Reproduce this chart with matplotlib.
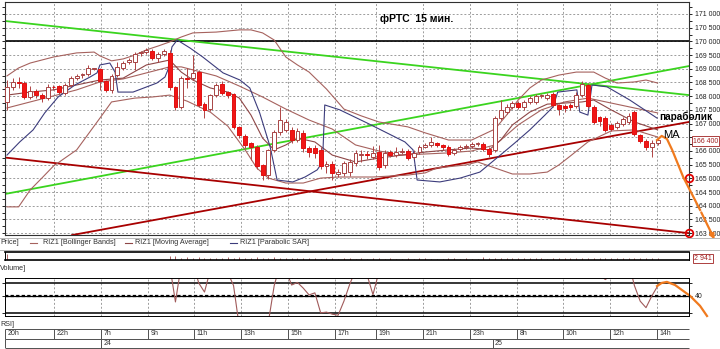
import numpy as np
import matplotlib.pyplot as plt
from matplotlib.lines import Line2D
from matplotlib.ticker import MultipleLocator, FuncFormatter

plt.rcParams['font.family'] = ['Liberation Sans', 'DejaVu Sans']

# 15-minute candles RIZ1 (open, high, low, close)
opens = [167790, 168340, 168520, 168480, 167970, 168190, 168040, 167930, 168340, 168370,
         168120, 168410, 168660, 168770, 168810, 168990, 168990, 168550, 168230, 168770,
         169030, 169250, 169250, 169570, 169610, 169650, 169390, 169540, 169580, 168340,
         167610, 168660, 168660, 168880, 167720, 167530, 168040, 168440, 168150, 168080,
         166870, 166550, 166290, 166150, 165490, 165120, 166040, 166690, 166770, 166770,
         166400, 166660, 166110, 166110, 166040, 165450, 165520, 165160, 165200, 165230,
         165560, 165850, 165870, 165780, 165960, 165490, 165960, 165850, 165960, 166000,
         165780, 165960, 166150, 166220, 166290, 166220, 166150, 165930, 166070, 166150,
         166180, 166250, 166260, 166070, 166040, 167200, 167420, 167610, 167750, 167610,
         167790, 167790, 168010, 167930, 168080, 167680, 167640, 167680, 167640, 168040,
         168410, 167610, 167240, 167200, 166950, 166880, 166980, 167060, 167420, 166580,
         166360, 166150, 166290]
highs = [168590, 168660, 168700, 168560, 168370, 168260, 168120, 168450, 168410, 168410,
         168480, 168740, 168810, 168850, 169140, 169030, 169030, 168590, 168810, 169250,
         169280, 169390, 169610, 169650, 169760, 169720, 169610, 169720, 169690, 168370,
         168740, 169030, 169500, 168960, 167790, 168080, 168480, 168560, 168190, 168120,
         166910, 166620, 166330, 166220, 165530, 166080, 166760, 167610, 167170, 166880,
         166840, 166770, 166180, 166220, 166150, 165640, 165640, 165340, 165640, 165710,
         166040, 166040, 166000, 166180, 166220, 166040, 166040, 166150, 166110, 166070,
         166040, 166220, 166290, 166510, 166330, 166260, 166220, 166110, 166220, 166260,
         166330, 166330, 166330, 166150, 167280, 167870, 167720, 167830, 167830, 167870,
         168010, 168080, 168080, 168120, 168150, 167720, 167720, 167750, 168150, 168560,
         168480, 167680, 167280, 167280, 167020, 167090, 167240, 167390, 167500, 166620,
         166440, 166400, 166470]
lows = [167500, 168230, 168300, 167900, 167900, 167940, 167790, 167860, 168230, 168080,
        168040, 168340, 168590, 168660, 168740, 168960, 168230, 168150, 168120, 168700,
        168960, 169180, 168960, 169470, 169540, 169320, 169250, 169470, 168230, 167500,
        167540, 168300, 168590, 167610, 167200, 167460, 167970, 168040, 167930, 166800,
        166470, 166110, 165670, 165340, 164940, 164980, 165970, 166580, 166690, 166290,
        166330, 165970, 165780, 165750, 165340, 165200, 164940, 165050, 165090, 165090,
        165450, 165600, 165710, 165710, 165310, 165380, 165780, 165780, 165890, 165670,
        165710, 165890, 166110, 166150, 166150, 166040, 165820, 165850, 166000, 166070,
        166110, 166180, 166000, 165780, 165960, 167130, 167350, 167540, 167540, 167500,
        167720, 167720, 167940, 167870, 167610, 167310, 167420, 167500, 167570, 167970,
        167570, 166980, 166910, 166690, 166730, 166800, 166910, 166980, 166550, 166290,
        166040, 165780, 166220]
closes = [168340, 168520, 168480, 167970, 168190, 168040, 167930, 168340, 168320, 168150,
          168410, 168660, 168740, 168790, 169030, 169000, 168550, 168230, 168740, 169060,
          169210, 169320, 169540, 169580, 169690, 169390, 169540, 169650, 168340, 167610,
          168660, 168630, 168850, 167680, 167500, 168040, 168410, 168120, 168040, 166870,
          166580, 166220, 166150, 165450, 165120, 166040, 166690, 167130, 167060, 166400,
          166730, 166110, 165960, 165930, 165450, 165520, 165200, 165230, 165560, 165600,
          165930, 165870, 165860, 165930, 165420, 165930, 165850, 165960, 165970, 165740,
          165930, 166150, 166220, 166330, 166220, 166150, 165890, 166040, 166150, 166180,
          166260, 166260, 166070, 165890, 167200, 167500, 167610, 167750, 167610, 167790,
          167930, 168010, 168020, 168040, 167680, 167530, 167570, 167610, 168040, 168440,
          167640, 167060, 167090, 166770, 166800, 167020, 167170, 167280, 166620, 166360,
          166150, 166290, 166400]

# indicator lines (candle index, price)
bb_up_x = [0, 2, 4, 8, 12, 15, 16, 18, 20, 22, 24, 26, 28, 30, 32, 36, 40, 42, 44, 46, 48, 50,
           52, 55, 58, 61, 64, 69, 72, 76, 80, 84, 86, 88, 90, 92, 95, 98, 101, 103, 105, 108,
           110, 112]
bb_up = [168740, 169030, 169210, 169430, 169580, 169610, 169470, 169290, 169360, 169500,
         169690, 169830, 169980, 170160, 170310, 170340, 170420, 170420, 170310, 170050,
         169430, 169140, 168880, 168260, 167530, 167280, 167060, 166880, 166660, 166400,
         166400, 166800, 167310, 167860, 168300, 168590, 168770, 168880, 168880, 168660,
         168480, 168520, 168590, 168480]
bb_mid_x = [0, 4, 8, 12, 16, 20, 24, 28, 30, 32, 36, 40, 44, 48, 52, 56, 60, 64, 68, 72, 76,
            80, 84, 86, 88, 92, 96, 100, 104, 108, 112]
bb_mid = [167570, 167790, 168010, 168230, 168520, 168630, 168850, 169070, 169070, 168960,
          168740, 168370, 167970, 167530, 167130, 166800, 166220, 166000, 165850, 165890,
          165930, 166000, 166220, 166580, 166950, 167500, 167790, 167930, 167750, 167570,
          167390]
bb_low_x = [0, 2, 4, 6, 8, 12, 16, 18, 22, 25, 28, 31, 35, 38, 41, 43, 45, 48, 51, 54, 57, 63,
            69, 72, 74, 79, 81, 84, 87, 90, 93, 95, 97, 100, 104, 108, 112]
bb_low = [163960, 163960, 164580, 165010, 165450, 166040, 167200, 167790, 167930, 167970,
          168040, 167820, 167420, 166910, 166040, 165380, 165010, 164830, 164830, 165010,
          165050, 165050, 165120, 165200, 165380, 165490, 165600, 165380, 165160, 165160,
          165230, 165490, 165820, 166330, 166730, 166770, 166510]
ma_x = [0, 4, 8, 12, 16, 20, 24, 28, 30, 32, 35, 38, 40, 42, 44, 46, 48, 50, 53, 56, 60, 64,
        68, 72, 76, 80, 83, 85, 87, 90, 93, 96, 99, 101, 104, 108, 112]
ma = [168040, 168150, 168230, 168410, 168590, 168660, 169140, 169320, 168880, 168590,
      168300, 168150, 167930, 167310, 166470, 166040, 166220, 166470, 166330, 165850,
      165600, 165740, 165850, 165960, 166040, 166110, 166040, 166400, 166950, 167420,
      167710, 167750, 167790, 167860, 167500, 167060, 166770]
sar_x = [0, 2.2, 4.5, 6.5, 8.8, 11.7, 14.3, 15.5, 16.0, 17.7, 18.6, 19.1, 21.7, 25.8, 27.2,
         27.7, 28.4, 29.3, 31.5, 33.7, 37.2, 40.1, 41.8, 43.5, 45.3, 46.5, 49.2, 51.3, 53.4,
         54.2, 54.4, 54.7, 57.3, 62.0, 65.4, 68.5, 69.9, 70.6, 74.5, 78.0, 81.4, 84.3, 87.4,
         90.0, 92.6, 94.0, 94.8, 98.1, 98.6, 100.0, 100.7, 103.3, 107.2, 111.9]
sar = [165850, 166330, 166770, 167390, 167970, 168410, 168700, 168850, 169140, 169210,
       168880, 168150, 168150, 168480, 168700, 168960, 169800, 170050, 169760, 169430,
       168850, 168590, 168300, 167390, 166150, 164940, 164870, 165050, 165310, 165560,
       166040, 167680, 167500, 167020, 166660, 166330, 166040, 164940, 164870, 165010,
       165230, 165740, 166290, 166770, 167310, 167610, 168150, 168230, 167420, 167310,
       168410, 168340, 167860, 167200]

# hand-drawn lines: (x0, x1), (p0, p1)
green_down = ([-0.34, 117.4], [170745, 168040])
green_up = ([-0.34, 117.4], [164430, 169100])
red_down = ([-0.34, 117.4], [165760, 163000])
red_up = ([11.2, 117.4], [162930, 167060])
level = 170000
circles = [165000, 163000]
arrow_x = [111.9, 112.7, 113.6, 114.5, 116.4, 119.3, 122.0]
arrow_p = [166400, 166550, 166440, 166040, 165050, 163850, 162680]
last_price = 166400

# volume and RSI
volume = [8000, 600] + [500] * 26 + [
    5200, 4800, 2600, 3200, 2400, 3400, 2200, 3000, 2600, 2200,
    3300, 2400, 3600, 2800, 2500, 3400, 2300, 2900, 3500, 2600,
    2200, 3100, 2400, 2000, 2700, 2200, 1800, 2400, 2000, 1700,
    2300, 1900, 1800, 2200, 1700, 2100, 1900, 1600, 2000, 1800,
    1700, 2100, 1600, 1900, 2000, 1700, 1800, 1600, 2200, 1900,
    1700, 2000, 1800, 1600, 3200, 2600, 2300, 2000, 2400, 2100,
    1900, 2300, 2000, 2200, 2100, 1800, 2400, 2000, 1900, 2200,
    2500, 2100, 2800, 2300, 2000, 2400, 2100, 1900, 2200, 2000,
    2300, 2100, 1900, 2200, 2941]
rsi = [58, 61, 60, 52, 55, 53, 50, 57, 58, 54, 59, 63, 65, 66, 69, 68, 55, 50, 60, 64,
       66, 68, 71, 72, 73, 62, 65, 67, 52, 37.7, 52, 51, 53, 45, 41.5, 50, 55, 50, 49, 44,
       28, 25, 26, 22, 20, 30, 44, 52, 50, 44.2, 45.2, 43, 40.4, 41.2, 33.5, 33.8, 33, 32.6, 38, 44.5,
       50, 49, 48, 40.5, 49, 50, 49, 51, 52, 48, 51, 55, 56, 58, 55, 54, 48, 51, 53, 54,
       56, 56, 52, 48, 68, 72, 73, 74, 71, 73, 74, 75, 75, 75, 62, 58, 59, 60, 65, 69,
       56, 49, 48, 46.3, 48, 50, 52, 53, 44, 38, 35.5, 40, 43.8]
rsi_arrow_x = [111.9, 112.7, 113.6, 115.0, 117.6, 119.3, 120.5]
rsi_arrow = [43.8, 45, 45.4, 44.2, 40, 36.2, 32.3]

tick_pos = [-0.3, 8.1, 16.2, 24.3, 32.2, 40.3, 48.4, 56.5, 63.5, 71.6, 79.7, 87.8, 95.7,
            103.8, 111.9]
tick_lab = ['20h', '22h', '7h', '9h', '11h', '13h', '15h', '17h', '19h', '21h', '23h', '8h',
            '10h', '12h', '14h']
day_pos = [16.2, 83.6]
day_lab = ['24', '25']

o = np.array(opens); h = np.array(highs); l = np.array(lows); c = np.array(closes)
x = np.arange(len(c))
XL = (-0.34, 117.4)

W, H = 720, 349
def rect(x0, y0, x1, y1):
    return [x0 / W, 1 - y1 / H, (x1 - x0) / W, (y1 - y0) / H]

def price_fmt(v, p):
    # the last-price box hides the label next to it
    if abs(v - last_price) < 150:
        return ''
    return f'{int(v):,}'.replace(',', ' ')

fig = plt.figure(figsize=(7.2, 3.49), dpi=100)
grid_kw = dict(color='#9c9c9c', lw=0.7, ls=(0, (2, 2)))
tick_font = dict(labelsize=5, labelcolor='#202020')

# ---- main price pane
ax = fig.add_axes(rect(5, 2, 689, 235))
ax.set_xlim(XL)
ax.set_ylim(162933, 171438)
ax.set_xticks(tick_pos)
ax.xaxis.grid(True, **grid_kw)
ax.yaxis.set_major_locator(MultipleLocator(500))
ax.yaxis.set_minor_locator(MultipleLocator(250))
ax.yaxis.grid(True, **grid_kw)
ax.tick_params(axis='x', length=0, labelbottom=False)
ax.tick_params(axis='y', which='both', left=True, right=True, labelleft=False,
               labelright=True, length=2.5, width=0.6, pad=1.5, direction='out', **tick_font)
ax.yaxis.set_major_formatter(FuncFormatter(price_fmt))
for s in ax.spines.values():
    s.set_linewidth(0.8)
    s.set_color('#303030')

ax.axhline(level, color='black', lw=1.2, zorder=2)
ax.plot(*green_down, color='#3ad41e', lw=1.3, zorder=2)
ax.plot(*green_up, color='#3ad41e', lw=1.3, zorder=2)
ax.plot(*red_down, color='#a80000', lw=1.3, zorder=2)
ax.plot(*red_up, color='#a80000', lw=1.3, zorder=2)

band_c = '#a6625e'
ax.plot(bb_up_x, bb_up, color=band_c, lw=0.8, zorder=3)
ax.plot(bb_mid_x, bb_mid, color=band_c, lw=0.8, zorder=3)
ax.plot(bb_low_x, bb_low, color=band_c, lw=0.8, zorder=3)
ax.plot(ma_x, ma, color='#8e4646', lw=0.8, zorder=3)
ax.plot(sar_x, sar, color='#3c3c7c', lw=0.8, zorder=3)

up = c >= o
lo = np.minimum(o, c)
bh = np.maximum(np.abs(c - o), 25)
ax.vlines(x, l, h, color='#b04444', lw=0.7, zorder=4)
ax.bar(x[up], bh[up], bottom=lo[up], width=0.66, color='white', edgecolor='#a84444',
       lw=0.7, zorder=5)
ax.bar(x[~up], bh[~up], bottom=lo[~up], width=0.66, color='#f01616', edgecolor='#e01010',
       lw=0.7, zorder=5)

ax.plot([XL[1]] * 2, circles, 'o', mfc='none', mec='#e00000', ms=5.5, mew=1.3,
        clip_on=False, zorder=6)
orange = '#f07a1e'
ax.plot(arrow_x[:-1], arrow_p[:-1], color=orange, lw=1.6, clip_on=False, zorder=6)
ax.annotate('', xy=(arrow_x[-1], arrow_p[-1]), xytext=(arrow_x[-2], arrow_p[-2]),
            arrowprops=dict(arrowstyle='-|>', color=orange, lw=1.6, mutation_scale=7),
            annotation_clip=False, zorder=6)

ax.text(112.2, 167240, 'параболик', fontsize=7.2, fontweight='bold', ha='left',
        va='center', clip_on=False, zorder=7)
ax.text(112.9, 166580, 'MA', fontsize=8, ha='left', va='center', clip_on=False, zorder=7)
fig.text(380 / W, 1 - 19 / H, 'фРТС  15 мин.', fontsize=7.5, fontweight='bold',
         ha='left', va='center')
fig.text(693 / W, 1 - 141 / H, f'{last_price:,}'.replace(',', ' '), fontsize=5,
         color='#a02020', ha='left', va='center',
         bbox=dict(boxstyle='square,pad=0.15', fc='white', ec='#a02020', lw=0.6))

# ---- legend row
ly = 1 - 243 / H
leg_font = dict(fontsize=5.2, color='#303030', va='center', ha='left')
fig.text(0, ly, 'Price]', **leg_font)
for x0, col, lab, tx in [(30, '#a6625e', 'RIZ1 [Bollinger Bands]', 43),
                         (125, '#8e4646', 'RIZ1 [Moving Average]', 135),
                         (230, '#3c3c7c', 'RIZ1 [Parabolic SAR]', 240)]:
    fig.add_artist(Line2D([x0 / W, (x0 + 7) / W], [ly, ly], color=col, lw=0.8))
    fig.text(tx / W, ly, lab, **leg_font)
for yy in (237.5, 249.5):
    fig.add_artist(Line2D([0, 1], [1 - yy / H] * 2, color='#b8b8b8', lw=0.7))

# ---- volume strip
axv = fig.add_axes(rect(5, 252, 689, 260))
axv.set_xlim(XL)
axv.set_ylim(0, 10000)
axv.vlines(x, 0, volume, color='#a04848', lw=0.6)
axv.set_xticks([])
axv.set_yticks([])
axv.spines['top'].set_linewidth(1.2)
axv.spines['bottom'].set_linewidth(1.2)
axv.spines['left'].set_linewidth(0.7)
axv.spines['right'].set_linewidth(0.7)
fig.text(694 / W, 1 - 258.5 / H, f'{volume[-1]:,}'.replace(',', ' '), fontsize=5,
         color='#a02020', ha='left', va='center',
         bbox=dict(boxstyle='square,pad=0.15', fc='white', ec='#a02020', lw=0.6))
fig.text(0, 1 - 268 / H, 'Volume]', **leg_font)

# ---- RSI pane
axr = fig.add_axes(rect(5, 278, 689, 316))
axr.set_xlim(XL)
axr.set_ylim(32.3, 46.9)
axr.set_xticks(tick_pos)
axr.xaxis.grid(True, **grid_kw)
axr.tick_params(axis='x', length=0, labelbottom=False)
axr.set_yticks([33.5, 40, 45])
axr.set_yticklabels(['', '40', ''])
axr.tick_params(axis='y', left=True, right=True, labelleft=False, labelright=True,
                length=2.5, width=0.6, pad=1.5, **tick_font)
axr.axhline(45, color='black', lw=1.1)
axr.axhline(40, color='black', lw=0.9)
axr.axhline(40, color='black', lw=1.6, ls=(0, (1.5, 1)))
axr.axhline(33.5, color='black', lw=1.1)
axr.plot(x, rsi, color='#a05a5a', lw=0.8)
axr.plot(rsi_arrow_x, rsi_arrow, color=orange, lw=1.6, clip_on=False)
for s in axr.spines.values():
    s.set_linewidth(0.7)
fig.text(0, 1 - 324 / H, 'RSI]', **leg_font)

# ---- time strip
axt = fig.add_axes(rect(5, 329, 689, 348))
axt.set_xlim(XL)
axt.set_ylim(0, 2)
axt.axis('off')
axt.hlines([0, 1, 2], XL[0], XL[1], color='#505050', lw=0.7, clip_on=False)
axt.vlines(tick_pos, 1, 2, color='#505050', lw=0.7)
axt.vlines(XL[1], 1, 2, color='#505050', lw=0.7)
for p, t in zip(tick_pos, tick_lab):
    axt.text(p + 0.4, 1.5, t, fontsize=5, color='#303030', ha='left', va='center')
axt.vlines([XL[0]] + day_pos, 0, 1, color='#505050', lw=0.7)
for p, t in zip(day_pos, day_lab):
    axt.text(p + 0.4, 0.5, t, fontsize=5, color='#303030', ha='left', va='center')

fig.savefig('out.png', dpi=100)
